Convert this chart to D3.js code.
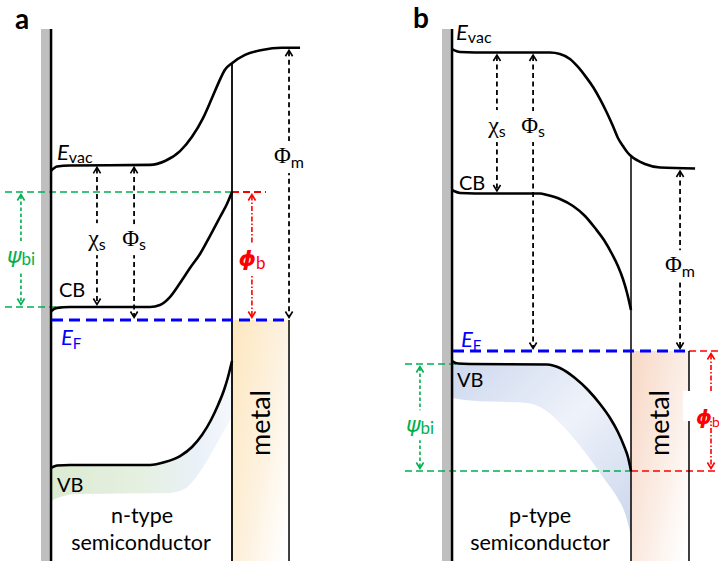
<!DOCTYPE html>
<html>
<head>
<meta charset="utf-8">
<script src="https://cdn.jsdelivr.net/npm/d3@7/dist/d3.min.js"></script>
<style>
  html, body { margin: 0; padding: 0; background: #fff; }
  svg { display: block; }
</style>
</head>
<body>
<svg id="fig" width="719" height="566"></svg>
<script>
// Energy-band diagrams of Schottky contacts.
// Band edges are [depth, energy] pairs: depth 0 = back contact, 1 = semiconductor/metal
// interface (depth > 1 lies inside the metal). Energies in eV, measured from the Fermi level.

// ---- (a) n-type semiconductor / metal ----
const nVacuum = [[0,2.71],[0.033,2.79],[0.105,2.81],[0.547,2.82],[0.630,2.89],[0.713,3.07],[0.779,3.33],
  [0.840,3.67],[0.890,4.04],[0.928,4.33],[0.961,4.55],[1,4.67],[1.072,4.82],[1.166,4.91],[1.276,4.95],[1.376,4.95]];
const nConduction = [[0,0.16],[0.033,0.22],[0.105,0.236],[0.547,0.236],[0.602,0.273],[0.657,0.418],[0.713,0.673],
  [0.768,0.945],[0.823,1.2],[0.878,1.527],[0.934,1.873],[0.972,2.109],[1,2.327]];
const nValence = [[0,-2.69],[0.033,-2.645],[0.105,-2.636],[0.547,-2.636],[0.630,-2.582],[0.713,-2.473],[0.779,-2.309],
  [0.834,-2.091],[0.884,-1.818],[0.923,-1.545],[0.956,-1.273],[0.978,-1.036],[1,-0.745]];
const nValenceTail = [[0,-3.29],[0.050,-3.22],[0.133,-3.164],[0.657,-3.145],[0.740,-3.07],[0.823,-2.76],[0.906,-2.31],[1,-1.76]];
const nMetalEnd = 1.315;
const nFermi = 0;
const nVacBulk = 2.82, nCbBulk = 0.236, nBarrier = 2.327, nMetalVac = 4.95, nVacInterface = 4.67;
// [label, depth, from (eV), to (eV), label energy]
const nArrows = [
  ["chi", 0.254, nVacBulk, nCbBulk, 1.47],
  ["Phis", 0.459, nVacBulk, nFermi, 1.47],
  ["Phim", nMetalEnd, nMetalVac, nFermi, 2.98],
];
const nBuiltIn = [-0.166, nBarrier, nCbBulk, 1.16];
const nSchottky = [1.11, nBarrier, nFermi, 1.11];

// ---- (b) p-type semiconductor / metal ----
const pVacuum = [[0,5.49],[0.045,5.436],[0.128,5.427],[0.547,5.427],[0.603,5.4],[0.659,5.31],[0.704,5.164],
  [0.749,4.98],[0.788,4.8],[0.827,4.58],[0.866,4.327],[0.899,4.09],[0.927,3.873],[0.955,3.727],[0.983,3.6],
  [1,3.545],[1.078,3.4],[1.162,3.336],[1.358,3.318]];
const pConduction = [[0,2.927],[0.045,2.873],[0.128,2.864],[0.492,2.864],[0.531,2.836],[0.603,2.764],[0.676,2.636],
  [0.743,2.455],[0.799,2.236],[0.849,2.018],[0.894,1.764],[0.927,1.545],[0.955,1.309],[0.978,1.055],[1,0.745]];
const pValence = [[0,-0.182],[0.034,-0.227],[0.101,-0.236],[0.531,-0.245],[0.603,-0.309],[0.687,-0.491],[0.760,-0.709],
  [0.827,-0.964],[0.883,-1.218],[0.927,-1.473],[0.961,-1.727],[0.983,-1.927],[1,-2.182]];
const pValenceTail = [[0,-0.855],[0.101,-0.9],[0.419,-0.945],[0.520,-1.073],[0.603,-1.309],[0.698,-1.655],
  [0.788,-2.036],[0.855,-2.345],[0.922,-2.655],[0.966,-2.945],[1,-3.345]];
const pMetalEnd = 1.324;
const pFermi = 0;
const pVacBulk = 5.427, pCbBulk = 2.864, pVbBulk = -0.236, pBarrier = -2.182, pMetalVac = 3.318, pVacInterface = 3.545;
const pArrows = [
  ["chi", 0.251, pVacBulk, pCbBulk, 4.09],
  ["Phis", 0.453, pVacBulk, pFermi, 4.09],
  ["Phim", 1.274, pMetalVac, pFermi, 1.56],
];
const pBuiltIn = [-0.179, pVbBulk, pBarrier, -1.35];
const pSchottky = [1.447, pFermi, pBarrier, -1.18];

// ---------------------------------------------------------------------------
const SANS = "Lato, 'Open Sans', sans-serif";
const GREEK = "'DejaVu Sans', sans-serif";
const SERIF = "'Liberation Serif', 'DejaVu Serif', serif";
const GREEN = "#00b050", RED = "#ff0000", BLUE = "#0000ff";

const svg = d3.select("#fig");
const defs = svg.append("defs");

function gradient(id, stops, x1, y1, x2, y2) {
  const g = defs.append("linearGradient").attr("id", id)
    .attr("x1", x1).attr("y1", y1).attr("x2", x2).attr("y2", y2);
  stops.forEach(([o, c]) => g.append("stop").attr("offset", o).attr("stop-color", c));
}
gradient("metalA", [[0, "#fde8c2"], [0.55, "#fdf2e0"], [1, "#ffffff"]], 0, 0.15, 1, 0.85);
gradient("metalB", [[0, "#f8dac8"], [0.55, "#fbede5"], [1, "#ffffff"]], 0, 0.15, 1, 0.85);
gradient("vbA", [[0, "#dbeBd2"], [0.5, "#e6f0e1"], [0.8, "#eaf0f8"], [1, "#f5f8fc"]], 0, 0, 1, 0);
gradient("vbB", [[0, "#cdd8ee"], [0.5, "#eef2fa"], [1, "#cbd6ec"]], 0, 0, 1, 1);

const lineGen = (x, y) => d3.line().x(d => x(d[0])).y(d => y(d[1])).curve(d3.curveMonotoneX);

function shade(g, x, y, top, bottom, fill) {
  const a = lineGen(x, y)(top);
  const b = lineGen(x, y)(bottom.slice().reverse());
  g.append("path").attr("d", a + b.replace(/^M/, "L") + "Z").attr("fill", fill).attr("stroke", "none");
}

function hdash(g, x1, x2, yv, color, width, dash) {
  g.append("line").attr("x1", x1).attr("x2", x2).attr("y1", yv).attr("y2", yv)
    .attr("stroke", color).attr("stroke-width", width).attr("stroke-dasharray", dash);
}

function arrow(g, xv, ya, yb, color, dash, width) {
  const top = Math.min(ya, yb) + 2.5, bot = Math.max(ya, yb) - 2.5;
  g.append("line").attr("x1", xv).attr("x2", xv).attr("y1", top + 1).attr("y2", bot - 1)
    .attr("stroke", color).attr("stroke-width", width).attr("stroke-dasharray", dash);
  const hw = 3.6, hh = 6;
  g.append("path").attr("d", `M${xv - hw},${top + hh}L${xv},${top}L${xv + hw},${top + hh}`)
    .attr("fill", "none").attr("stroke", color).attr("stroke-width", 1.6);
  g.append("path").attr("d", `M${xv - hw},${bot - hh}L${xv},${bot}L${xv + hw},${bot - hh}`)
    .attr("fill", "none").attr("stroke", color).attr("stroke-width", 1.6);
}

// text built from parts: [string, family, size, style, weight, baseline shift]
function richText(g, xv, yv, parts, color, anchor) {
  const t = g.append("text").attr("x", xv).attr("y", yv).attr("fill", color)
    .attr("text-anchor", anchor || "start");
  let shift = 0;
  parts.forEach(([s, fam, size, style, weight, sh]) => {
    const ts = t.append("tspan").text(s).attr("font-family", fam).attr("font-size", size)
      .attr("font-style", style || "normal").attr("font-weight", weight || "normal");
    const target = sh || 0;
    if (target !== shift) { ts.attr("dy", target - shift); shift = target; }
  });
  return t;
}

function boxed(g, t, padX, padY) {
  const bb = t.node().getBBox();
  g.insert("rect", () => t.node()).attr("x", bb.x - padX).attr("y", bb.y - padY)
    .attr("width", bb.width + 2 * padX).attr("height", bb.height + 2 * padY).attr("fill", "#fff");
}

const LABELS = {
  chi: [["χ", SERIF, 24], ["s", SANS, 16, "normal", "normal", 4]],
  Phis: [["Φ", SERIF, 23], ["s", SANS, 16, "normal", "normal", 4]],
  Phim: [["Φ", SERIF, 23], ["m", SANS, 16, "normal", "normal", 5]],
};

function panelFrame(g, x, yTop, yBottom) {
  g.append("rect").attr("x", x(0) - 10).attr("y", yTop).attr("width", 8.5).attr("height", yBottom - yTop).attr("fill", "#bfbfbf");
}

function bandLines(g, x, y, bands) {
  bands.forEach(b => g.append("path").attr("d", lineGen(x, y)(b)).attr("fill", "none")
    .attr("stroke", "#000").attr("stroke-width", 2.6));
}

function energyArrows(g, x, y, list) {
  list.forEach(([key, d, e1, e2, le]) => {
    arrow(g, x(d), y(e1), y(e2), "#000", "5,3.5", 1.8);
    const t = richText(g, x(d), y(le) + 7, LABELS[key], "#000", "middle");
    boxed(g, t, 1, 2);
  });
}

const Y_TOP = 29, Y_BOT = 561;

// ============================== panel (a) ===============================
{
  const x = d3.scaleLinear().domain([0, 1]).range([51, 232]);
  const y = d3.scaleLinear().domain([0, 1]).range([320, 265]);
  const g = svg.append("g");

  panelFrame(g, x, Y_TOP, Y_BOT);
  // metal
  g.append("rect").attr("x", x(1)).attr("y", y(nFermi)).attr("width", x(nMetalEnd) - x(1))
    .attr("height", Y_BOT - y(nFermi)).attr("fill", "url(#metalA)");
  shade(g, x, y, nValence, nValenceTail, "url(#vbA)");

  // reference levels
  hdash(g, 5, x(1), y(nBarrier), GREEN, 1.6, "7,4");
  hdash(g, 5, 65, y(nCbBulk), GREEN, 1.6, "7,4");
  hdash(g, x(1), 266, y(nBarrier), RED, 1.8, "7,4");

  // back contact and metal boundaries
  g.append("line").attr("x1", x(0)).attr("x2", x(0)).attr("y1", Y_TOP).attr("y2", Y_BOT).attr("stroke", "#000").attr("stroke-width", 2.6);
  g.append("line").attr("x1", x(1)).attr("x2", x(1)).attr("y1", y(nVacInterface)).attr("y2", Y_BOT).attr("stroke", "#000").attr("stroke-width", 1.8);
  g.append("line").attr("x1", x(nMetalEnd)).attr("x2", x(nMetalEnd)).attr("y1", y(nFermi)).attr("y2", Y_BOT).attr("stroke", "#000").attr("stroke-width", 1.5);

  bandLines(g, x, y, [nVacuum, nConduction, nValence]);
  hdash(g, x(0) + 1, x(nMetalEnd), y(nFermi), BLUE, 3, "11,6");

  energyArrows(g, x, y, nArrows);
  arrow(g, x(nBuiltIn[0]), y(nBuiltIn[1]), y(nBuiltIn[2]), GREEN, "3.5,2.5", 1.6);
  boxed(g, richText(g, x(nBuiltIn[0]), y(nBuiltIn[3]) + 7,
    [["ψ", GREEK, 22, "italic"], ["bi", SANS, 17, "normal", "normal", 2]], GREEN, "middle"), 1, 2);
  arrow(g, x(nSchottky[0]), y(nSchottky[1]), y(nSchottky[2]), RED, "5,2,1.5,2", 1.6);
  boxed(g, richText(g, x(nSchottky[0]), y(nSchottky[3]) + 7,
    [["ϕ", GREEK, 22, "italic", "bold"], ["b", SANS, 17, "normal", "normal", 3]], RED, "middle"), 1, 2);

  // text
  richText(g, 57, 160, [["E", SANS, 22, "italic"], ["vac", SANS, 16, "normal", "normal", 3]], "#000");
  richText(g, 59, 297, [["CB", SANS, 20]], "#000");
  richText(g, 61, 345, [["E", SANS, 22, "italic"], ["F", SANS, 15, "normal", "normal", 4]], BLUE);
  richText(g, 57, 492, [["VB", SANS, 20]], "#000");
  richText(g, 142, 523, [["n-type", SANS, 21.5]], "#000", "middle");
  richText(g, 141, 550, [["semiconductor", SANS, 21.5]], "#000", "middle");
  g.append("text").attr("transform", `translate(${(x(1) + x(nMetalEnd)) / 2 + 9},423) rotate(-90)`)
    .attr("text-anchor", "middle").attr("font-family", SANS).attr("font-size", 27).text("metal");
  g.append("text").attr("x", 15).attr("y", 29).attr("font-family", SANS).attr("font-weight", "bold")
    .attr("font-size", 28).text("a");
}

// ============================== panel (b) ===============================
{
  const x = d3.scaleLinear().domain([0, 1]).range([452, 631]);
  const y = d3.scaleLinear().domain([0, 1]).range([351, 296]);
  const g = svg.append("g");

  panelFrame(g, x, Y_TOP, Y_BOT);
  g.append("rect").attr("x", x(1)).attr("y", y(pFermi)).attr("width", x(pMetalEnd) - x(1))
    .attr("height", Y_BOT - y(pFermi)).attr("fill", "url(#metalB)");
  shade(g, x, y, pValence, pValenceTail, "url(#vbB)");

  hdash(g, 405, 465, y(pVbBulk), GREEN, 1.6, "7,4");
  hdash(g, 405, x(1), y(pBarrier), GREEN, 1.6, "7,4");
  hdash(g, x(1), 719, y(pBarrier), RED, 1.6, "7,4");
  hdash(g, x(pMetalEnd), 719, y(pFermi), RED, 1.6, "7,4");

  g.append("line").attr("x1", x(0)).attr("x2", x(0)).attr("y1", Y_TOP).attr("y2", Y_BOT).attr("stroke", "#000").attr("stroke-width", 2.6);
  g.append("line").attr("x1", x(1)).attr("x2", x(1)).attr("y1", y(pVacInterface)).attr("y2", Y_BOT).attr("stroke", "#000").attr("stroke-width", 1.5);
  g.append("line").attr("x1", x(pMetalEnd)).attr("x2", x(pMetalEnd)).attr("y1", y(pFermi)).attr("y2", Y_BOT).attr("stroke", "#000").attr("stroke-width", 1.5);

  bandLines(g, x, y, [pVacuum, pConduction, pValence]);
  hdash(g, x(0) + 1, x(pMetalEnd), y(pFermi), BLUE, 3, "11,6");

  energyArrows(g, x, y, pArrows);
  arrow(g, x(pBuiltIn[0]), y(pBuiltIn[1]), y(pBuiltIn[2]), GREEN, "3.5,2.5", 1.6);
  boxed(g, richText(g, x(pBuiltIn[0]), y(pBuiltIn[3]) + 7,
    [["ψ", GREEK, 22, "italic"], ["bi", SANS, 17, "normal", "normal", 2]], GREEN, "middle"), 1, 2);
  arrow(g, x(pSchottky[0]), y(pSchottky[1]), y(pSchottky[2]), RED, "5,2,1.5,2", 1.6);
  g.append("rect").attr("x", 683).attr("y", 391).attr("width", 36).attr("height", 30).attr("fill", "#fff");
  richText(g, 696, y(pSchottky[3]) + 8,
    [["ϕ", GREEK, 20, "italic", "bold"], ["b", SANS, 14, "normal", "normal", 3]], RED);

  richText(g, 456, 40, [["E", SANS, 22, "italic"], ["vac", SANS, 16, "normal", "normal", 3]], "#000");
  richText(g, 459, 190, [["CB", SANS, 20]], "#000");
  richText(g, 461, 347, [["E", SANS, 22, "italic"], ["F", SANS, 15, "normal", "normal", 4]], BLUE);
  richText(g, 457, 387, [["VB", SANS, 20]], "#000");
  richText(g, 540, 523, [["p-type", SANS, 21.5]], "#000", "middle");
  richText(g, 540, 550, [["semiconductor", SANS, 21.5]], "#000", "middle");
  g.append("text").attr("transform", `translate(${(x(1) + x(pMetalEnd)) / 2 + 9},423) rotate(-90)`)
    .attr("text-anchor", "middle").attr("font-family", SANS).attr("font-size", 27).text("metal");
  g.append("text").attr("x", 413).attr("y", 28).attr("font-family", SANS).attr("font-weight", "bold")
    .attr("font-size", 28).text("b");
}
</script>
</body>
</html>
